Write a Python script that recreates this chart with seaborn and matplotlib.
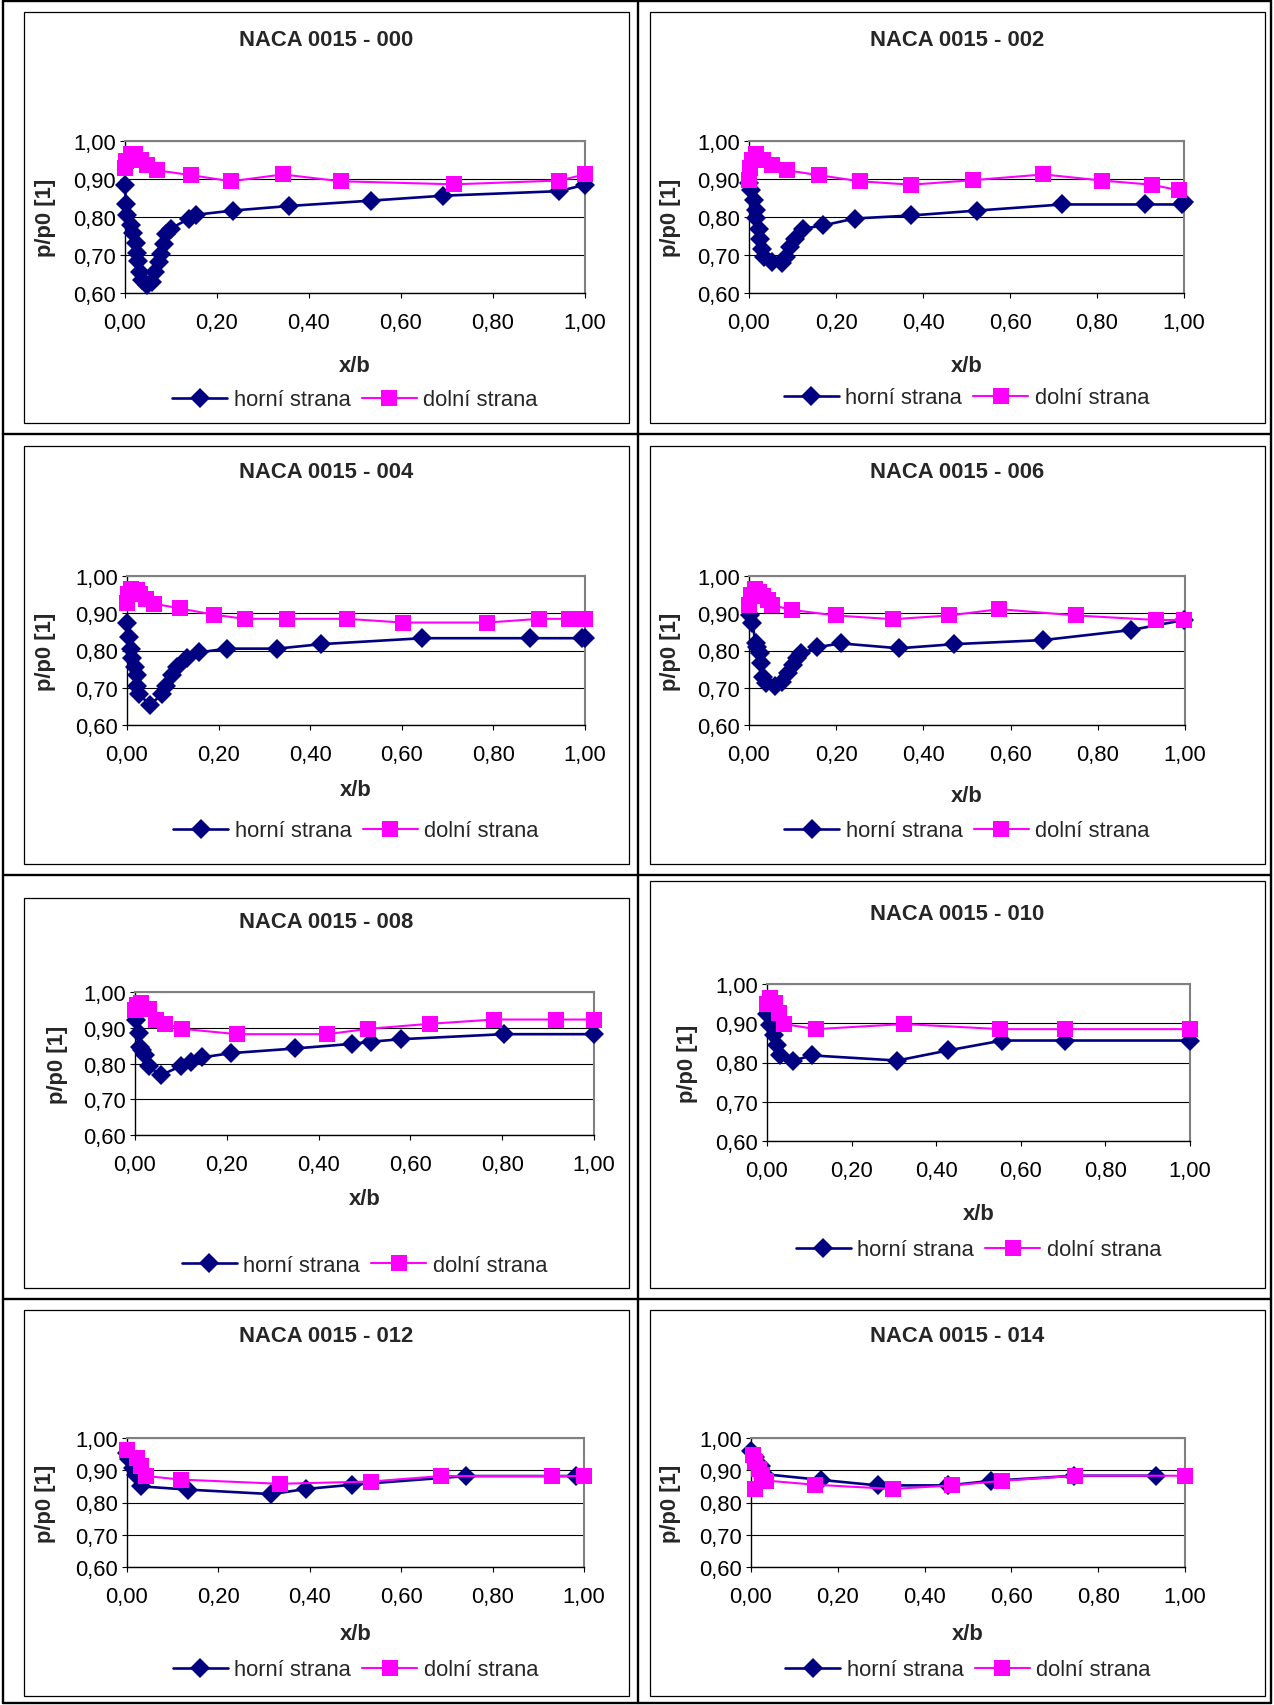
import matplotlib
matplotlib.use("Agg")
import matplotlib.pyplot as plt
from matplotlib.lines import Line2D
from matplotlib.patches import Rectangle
import seaborn as sns
import pandas as pd

# ---------------- data ----------------
series_names = ["horní strana", "dolní strana"]
panel_titles = ["NACA 0015 - 000", "NACA 0015 - 002", "NACA 0015 - 004", "NACA 0015 - 006",
                "NACA 0015 - 008", "NACA 0015 - 010", "NACA 0015 - 012", "NACA 0015 - 014"]
x_ticks = [0.0, 0.2, 0.4, 0.6, 0.8, 1.0]
x_tick_labels = ["0,00", "0,20", "0,40", "0,60", "0,80", "1,00"]
y_ticks = [0.6, 0.7, 0.8, 0.9, 1.0]
y_tick_labels = ["0,60", "0,70", "0,80", "0,90", "1,00"]
x_label = "x/b"
y_label = "p/p0 [1]"

# 000
up_x_000 = [0.000, 0.002, 0.005, 0.013, 0.017, 0.023, 0.025, 0.029, 0.033, 0.038, 0.048, 0.058, 0.066,
            0.074, 0.079, 0.085, 0.089, 0.099, 0.139, 0.155, 0.235, 0.357, 0.534, 0.691, 0.944, 1.000]
up_y_000 = [0.885, 0.833, 0.806, 0.780, 0.759, 0.732, 0.705, 0.683, 0.656, 0.633, 0.622, 0.628, 0.655,
            0.681, 0.703, 0.730, 0.756, 0.769, 0.796, 0.806, 0.817, 0.829, 0.843, 0.856, 0.868, 0.885]
lo_x_000 = [0.000, 0.002, 0.013, 0.021, 0.035, 0.048, 0.069, 0.144, 0.231, 0.343, 0.469, 0.716, 0.944, 1.000]
lo_y_000 = [0.928, 0.947, 0.965, 0.967, 0.950, 0.938, 0.923, 0.910, 0.894, 0.912, 0.894, 0.886, 0.896, 0.912]

# 002
up_x_002 = [0.000, 0.005, 0.011, 0.015, 0.017, 0.023, 0.025, 0.030, 0.035, 0.052, 0.076, 0.085, 0.095,
            0.105, 0.123, 0.171, 0.243, 0.373, 0.525, 0.720, 0.911, 0.995, 1.000]
up_y_002 = [0.890, 0.870, 0.844, 0.818, 0.797, 0.769, 0.743, 0.716, 0.694, 0.681, 0.679, 0.694, 0.721,
            0.743, 0.769, 0.778, 0.796, 0.804, 0.817, 0.833, 0.833, 0.833, 0.840]
lo_x_002 = [0.000, 0.002, 0.007, 0.015, 0.033, 0.052, 0.087, 0.161, 0.255, 0.373, 0.515, 0.677, 0.811, 0.926, 0.989]
lo_y_002 = [0.897, 0.928, 0.950, 0.967, 0.950, 0.937, 0.923, 0.910, 0.894, 0.885, 0.897, 0.912, 0.896, 0.885, 0.870]

# 004
up_x_004 = [0.000, 0.005, 0.008, 0.012, 0.017, 0.021, 0.021, 0.027, 0.050, 0.076, 0.086, 0.099, 0.109,
            0.130, 0.158, 0.218, 0.328, 0.423, 0.645, 0.879, 0.993, 1.000]
up_y_004 = [0.873, 0.835, 0.805, 0.780, 0.756, 0.733, 0.705, 0.682, 0.654, 0.682, 0.705, 0.733, 0.756,
            0.780, 0.795, 0.805, 0.805, 0.817, 0.833, 0.833, 0.833, 0.833]
lo_x_004 = [0.000, 0.002, 0.009, 0.021, 0.029, 0.042, 0.058, 0.115, 0.190, 0.257, 0.349, 0.480, 0.602,
            0.787, 0.899, 0.965, 1.000]
lo_y_004 = [0.928, 0.952, 0.966, 0.963, 0.952, 0.938, 0.926, 0.913, 0.896, 0.885, 0.885, 0.885, 0.875,
            0.875, 0.885, 0.885, 0.885]

# 006
up_x_006 = [0.002, 0.008, 0.015, 0.019, 0.025, 0.027, 0.033, 0.039, 0.060, 0.076, 0.089, 0.101, 0.109,
            0.120, 0.156, 0.211, 0.344, 0.470, 0.675, 0.877, 0.998]
up_y_006 = [0.895, 0.873, 0.819, 0.810, 0.794, 0.766, 0.730, 0.714, 0.705, 0.716, 0.740, 0.761, 0.779,
            0.792, 0.809, 0.819, 0.806, 0.817, 0.828, 0.855, 0.882]
lo_x_006 = [0.000, 0.005, 0.013, 0.023, 0.033, 0.043, 0.052, 0.098, 0.199, 0.330, 0.459, 0.574, 0.751, 0.933, 0.998]
lo_y_006 = [0.922, 0.949, 0.964, 0.958, 0.946, 0.936, 0.922, 0.909, 0.894, 0.884, 0.894, 0.911, 0.894, 0.882, 0.882]

# 008
up_x_008 = [0.002, 0.008, 0.010, 0.015, 0.022, 0.030, 0.056, 0.100, 0.121, 0.146, 0.209, 0.349, 0.473,
            0.514, 0.580, 0.803, 1.000]
up_y_008 = [0.923, 0.884, 0.845, 0.838, 0.825, 0.792, 0.767, 0.793, 0.803, 0.817, 0.829, 0.842, 0.855,
            0.861, 0.868, 0.882, 0.882]
lo_x_008 = [0.000, 0.004, 0.014, 0.030, 0.045, 0.066, 0.103, 0.222, 0.419, 0.508, 0.642, 0.782, 0.917, 1.000]
lo_y_008 = [0.950, 0.964, 0.969, 0.952, 0.923, 0.911, 0.897, 0.882, 0.882, 0.897, 0.911, 0.923, 0.923, 0.923]

# 010
up_x_010 = [0.000, 0.008, 0.017, 0.024, 0.030, 0.062, 0.107, 0.308, 0.429, 0.556, 0.704, 1.000]
up_y_010 = [0.923, 0.895, 0.870, 0.845, 0.818, 0.805, 0.818, 0.805, 0.831, 0.856, 0.856, 0.856]
lo_x_010 = [0.000, 0.007, 0.019, 0.028, 0.041, 0.115, 0.324, 0.552, 0.704, 1.000]
lo_y_010 = [0.948, 0.965, 0.952, 0.927, 0.898, 0.885, 0.898, 0.885, 0.885, 0.885]

# 012
up_x_012 = [0.000, 0.005, 0.013, 0.019, 0.031, 0.133, 0.316, 0.392, 0.492, 0.742, 0.982]
up_y_012 = [0.955, 0.935, 0.906, 0.884, 0.850, 0.840, 0.826, 0.842, 0.855, 0.882, 0.882]
lo_x_012 = [0.000, 0.021, 0.031, 0.042, 0.119, 0.334, 0.533, 0.688, 0.931, 1.000]
lo_y_012 = [0.962, 0.938, 0.913, 0.882, 0.871, 0.858, 0.865, 0.882, 0.882, 0.882]

# 014
up_x_014 = [0.000, 0.010, 0.022, 0.030, 0.162, 0.292, 0.455, 0.552, 0.745, 0.934]
up_y_014 = [0.961, 0.940, 0.914, 0.888, 0.870, 0.853, 0.853, 0.867, 0.883, 0.883]
lo_x_014 = [0.010, 0.005, 0.010, 0.018, 0.025, 0.035, 0.148, 0.327, 0.463, 0.578, 0.747, 1.000]
lo_y_014 = [0.841, 0.946, 0.925, 0.905, 0.885, 0.868, 0.855, 0.842, 0.853, 0.867, 0.883, 0.883]

upper_x = [up_x_000, up_x_002, up_x_004, up_x_006, up_x_008, up_x_010, up_x_012, up_x_014]
upper_y = [up_y_000, up_y_002, up_y_004, up_y_006, up_y_008, up_y_010, up_y_012, up_y_014]
lower_x = [lo_x_000, lo_x_002, lo_x_004, lo_x_006, lo_x_008, lo_x_010, lo_x_012, lo_x_014]
lower_y = [lo_y_000, lo_y_002, lo_y_004, lo_y_006, lo_y_008, lo_y_010, lo_y_012, lo_y_014]

# ---------------- layout (pixels of a 1274 x 1706 canvas) ----------------
W, H = 1274, 1706
frames = [(24, 13, 629, 424), (650, 13, 1265, 424),
          (24, 447, 629, 865), (650, 447, 1265, 865),
          (24, 899, 629, 1289), (650, 882, 1265, 1289),
          (24, 1311, 629, 1697), (650, 1311, 1265, 1697)]
plots = [(125, 142, 585, 294), (749, 142, 1184, 294),
         (127, 577, 585, 726), (749, 577, 1185, 726),
         (135, 993, 594, 1136), (767, 985, 1190, 1142),
         (127, 1439, 584, 1568), (751, 1439, 1185, 1568)]
title_y = [40, 40, 473, 473, 923, 914, 1337, 1337]
xlab_y = [366, 366, 791, 797, 1200, 1214, 1635, 1635]
leg_y = [401, 399, 832, 832, 1266, 1251, 1671, 1671]
ylab_x = [46, 671, 46, 671, 57, 688, 46, 671]

sns.set_style("white")
plt.rcParams["font.family"] = ["Liberation Sans", "DejaVu Sans"]

NAVY = "#000080"
MAGENTA = "#FF00FF"
FS = 15.8

fig = plt.figure(figsize=(W / 100, H / 100), dpi=100)
fig.patch.set_facecolor("white")


def fx(px):
    return px / W


def fy(py):
    return 1 - py / H


# table grid lines
tbl_kw = dict(color="black", lw=1.7, transform=fig.transFigure)
for (x0, y0, x1, y1) in [(3, 2, 1271, 2), (3, 1704, 1271, 1704), (3, 2, 3, 1704), (1271, 2, 1271, 1704),
                         (638, 2, 638, 1704), (3, 435, 1271, 435), (3, 876, 1271, 876), (3, 1300, 1271, 1300)]:
    fig.add_artist(Line2D([fx(x0), fx(x1)], [fy(y0), fy(y1)], **tbl_kw))

for i in range(8):
    fl, ft, fr, fb = frames[i]
    fig.add_artist(Rectangle((fx(fl), fy(fb)), (fr - fl) / W, (fb - ft) / H, fill=False,
                             edgecolor="black", lw=0.9, transform=fig.transFigure))
    l, t, r, b = plots[i]
    ax = fig.add_axes([fx(l), fy(b), (r - l) / W, (b - t) / H])

    df_up = pd.DataFrame({"x": upper_x[i], "y": upper_y[i]})
    df_lo = pd.DataFrame({"x": lower_x[i], "y": lower_y[i]})
    sns.lineplot(data=df_up, x="x", y="y", sort=False, estimator=None, ax=ax, color=NAVY,
                 lw=1.9, marker="D", markersize=10, markeredgecolor=NAVY, markeredgewidth=0,
                 label=series_names[0], clip_on=False, zorder=3)
    sns.lineplot(data=df_lo, x="x", y="y", sort=False, estimator=None, ax=ax, color=MAGENTA,
                 lw=1.5, marker="s", markersize=12, markeredgecolor=MAGENTA, markeredgewidth=0,
                 label=series_names[1], clip_on=False, zorder=4)

    ax.set_xlim(0, 1)
    ax.set_ylim(0.6, 1.0)
    ax.set_xticks(x_ticks)
    ax.set_xticklabels(x_tick_labels)
    ax.set_yticks(y_ticks)
    ax.set_yticklabels(y_tick_labels)
    ax.yaxis.grid(True, color="black", lw=0.8)
    ax.xaxis.grid(False)
    ax.set_axisbelow(True)
    for s in ["top", "right"]:
        ax.spines[s].set_color("#808080")
        ax.spines[s].set_linewidth(1.5)
    for s in ["left", "bottom"]:
        ax.spines[s].set_color("black")
        ax.spines[s].set_linewidth(1.0)
    ax.tick_params(axis="both", direction="out", length=3.6, width=0.8, colors="black",
                   labelsize=FS, bottom=True, left=True)
    ax.tick_params(axis="x", pad=10)
    ax.tick_params(axis="y", pad=3)

    ax.set_xlabel(x_label, fontsize=FS, fontweight="bold")
    ax.xaxis.label.set_va("center")
    ax.xaxis.set_label_coords(fx((l + r) / 2), fy(xlab_y[i]), transform=fig.transFigure)
    ax.set_ylabel(y_label, fontsize=FS, fontweight="bold")
    ax.yaxis.label.set_va("center")
    ax.yaxis.set_label_coords(fx(ylab_x[i]), fy((t + b) / 2), transform=fig.transFigure)

    fig.text(fx((fl + fr) / 2), fy(title_y[i]), panel_titles[i], fontsize=FS, fontweight="bold",
             ha="center", va="center")

    handles, labels = ax.get_legend_handles_labels()
    ax.legend(handles, labels, loc="center", bbox_to_anchor=(fx((l + r) / 2), fy(leg_y[i])),
              bbox_transform=fig.transFigure, ncol=2, frameon=False, fontsize=FS,
              handlelength=2.5, handletextpad=0.3, columnspacing=0.5, borderaxespad=0,
              numpoints=1)

fig.savefig("out.png", dpi=100, facecolor="white")
